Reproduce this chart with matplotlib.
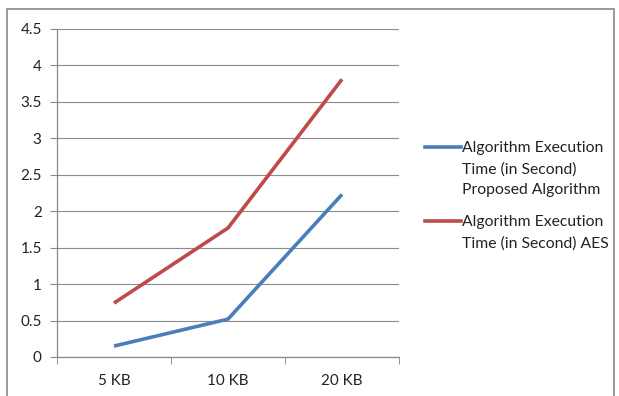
import matplotlib
matplotlib.use("Agg")
import matplotlib.pyplot as plt
from matplotlib.lines import Line2D
from matplotlib.patches import Rectangle

categories = ["5 KB", "10 KB", "20 KB"]
proposed = [0.15, 0.52, 2.23]
aes = [0.74, 1.77, 3.81]
yticks = [0, 0.5, 1, 1.5, 2, 2.5, 3, 3.5, 4, 4.5]
labels = ["Algorithm Execution\nTime (in Second)\nProposed Algorithm",
          "Algorithm Execution\nTime (in Second) AES"]
colors = ['#4a7ebb', '#be4b48']

plt.rcParams['font.family'] = ['Lato', 'DejaVu Sans']

W, H = 619, 396
fig = plt.figure(figsize=(W / 100, H / 100), dpi=100)
fig.patches.append(Rectangle((7 / W, -0.1), (614 - 7) / W, 1.1 - 9 / H, transform=fig.transFigure,
                             fill=False, edgecolor='#888888', linewidth=1.2))
ax = fig.add_axes([57 / W, 1 - 357 / H, (399 - 57) / W, (357 - 29) / H])

x = [i + 0.5 for i in range(len(categories))]
ax.plot(x, proposed, color=colors[0], linewidth=2.6, solid_capstyle='butt')
ax.plot(x, aes, color=colors[1], linewidth=2.6, solid_capstyle='butt')

ax.set_xlim(0, 3)
ax.set_ylim(0, 4.5)
ax.set_yticks(yticks)
ax.set_yticklabels([f"{v:g}" for v in yticks])
ax.set_xticks(x)
ax.set_xticklabels(categories)
ax.set_xticks([0, 1, 2, 3], minor=True)
ax.tick_params(axis='x', which='major', length=0, pad=12, labelsize=11, colors='#222222')
ax.tick_params(axis='x', which='minor', length=5, color='#888888', direction='out')
ax.tick_params(axis='y', length=5, color='#888888', labelsize=11, colors='#222222', pad=6)
ax.yaxis.grid(True, color='#8c8c8c', linewidth=0.8)
ax.set_axisbelow(True)
for s in ['top', 'right']:
    ax.spines[s].set_visible(False)
for s in ['left', 'bottom']:
    ax.spines[s].set_color('#888888')
    ax.spines[s].set_linewidth(0.9)

# manual legend
legend_tops = [141, 215]
for lab, col, top in zip(labels, colors, legend_tops):
    yline = top + 6
    fig.add_artist(Line2D([425 / W, 461 / W], [1 - yline / H, 1 - yline / H],
                          color=col, linewidth=2.6, transform=fig.transFigure))
    fig.text(462 / W, 1 - top / H, lab, ha='left', va='top', fontsize=11.3,
             color='#222222', linespacing=1.62)

fig.savefig("out.png", dpi=100)
